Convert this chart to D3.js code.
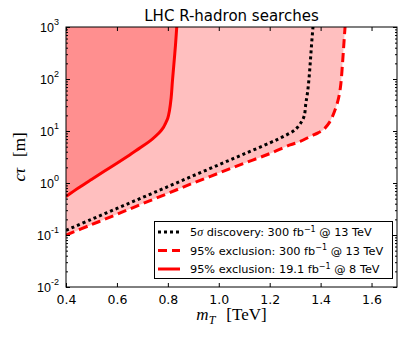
<!DOCTYPE html>
<html>
<head>
<meta charset="utf-8">
<script src="https://cdn.jsdelivr.net/npm/d3@7"></script>
<style>
  body { margin: 0; background: #fff; }
  text { fill: #000; }
</style>
</head>
<body>
<div id="chart"></div>
<script>
// 95% exclusion, 19.1 fb^-1 @ 8 TeV (solid)
const mass8 = [0.40, 0.45, 0.50, 0.55, 0.60, 0.65, 0.70, 0.74, 0.765, 0.78, 0.79, 0.80, 0.806, 0.813, 0.818, 0.824, 0.830, 0.835]
const ct8 = [0.55, 0.81, 1.17, 1.68, 2.4, 3.47, 5.07, 7.08, 9.12, 11.2, 13.8, 17.8, 24, 43.6, 91, 200, 450, 1000]

// 5 sigma discovery, 300 fb^-1 @ 13 TeV (dotted)
const massDisc = [0.40, 0.50, 0.60, 0.70, 0.80, 0.90, 1.00, 1.10, 1.20, 1.253, 1.299, 1.325, 1.336, 1.342, 1.349, 1.355, 1.360, 1.365, 1.370]
const ctDisc = [0.123, 0.20, 0.324, 0.525, 0.85, 1.38, 2.24, 3.63, 5.9, 7.8, 10.5, 15, 20, 34, 57, 110, 230, 500, 1000]

// 95% exclusion, 300 fb^-1 @ 13 TeV (dashed)
const massExcl = [0.40, 0.50, 0.60, 0.70, 0.80, 0.90, 1.00, 1.10, 1.20, 1.28, 1.32, 1.358, 1.39, 1.41, 1.436, 1.456, 1.469, 1.478, 1.486, 1.491, 1.496]
const ctExcl = [0.10, 0.158, 0.25, 0.40, 0.63, 1.0, 1.55, 2.4, 3.67, 5.4, 6.3, 7.8, 9.2, 10.5, 15, 25, 40, 70, 200, 450, 1000]

const xTicks = [0.4, 0.6, 0.8, 1.0, 1.2, 1.4, 1.6]
const yTicks = [1e-2, 1e-1, 1e0, 1e1, 1e2, 1e3]
const yExponents = ["-2", "-1", "0", "1", "2", "3"]

const width = 407, height = 339
const margin = {left: 66, right: 10, top: 27, bottom: 52}

const svg = d3.select("#chart").append("svg")
    .attr("width", width)
    .attr("height", height)
    .attr("font-family", "DejaVu Sans, sans-serif")

const x = d3.scaleLinear().domain([0.4, 1.7]).range([margin.left, width - margin.right])
const y = d3.scaleLog().domain([1e-2, 1e3]).range([height - margin.bottom, margin.top])

svg.append("clipPath").attr("id", "plotClip")
    .append("rect")
    .attr("x", x(0.4)).attr("y", y(1e3))
    .attr("width", x(1.7) - x(0.4)).attr("height", y(1e-2) - y(1e3))

const line = d3.line()
    .x(d => x(d[0]))
    .y(d => y(d[1]))
    .curve(d3.curveCatmullRom.alpha(0.5))

const zip = (a, b) => a.map((v, i) => [v, b[i]])
const curveExcl = zip(massExcl, ctExcl)
const curveDisc = zip(massDisc, ctDisc)
const curve8 = zip(mass8, ct8)

const plot = svg.append("g").attr("clip-path", "url(#plotClip)")

// shaded regions (to the upper-left of each exclusion line)
function fillPath(pts) {
    return line(pts) + `L${x(0.4)},${y(1e3)}Z`
}
plot.append("path").attr("d", fillPath(curveExcl)).attr("fill", "red").attr("fill-opacity", 0.25)
plot.append("path").attr("d", fillPath(curve8)).attr("fill", "red").attr("fill-opacity", 0.25)

plot.append("path").attr("d", line(curveDisc))
    .attr("fill", "none").attr("stroke", "#000").attr("stroke-width", 3)
    .attr("stroke-dasharray", "3,3")
plot.append("path").attr("d", line(curveExcl))
    .attr("fill", "none").attr("stroke", "red").attr("stroke-width", 3)
    .attr("stroke-dasharray", "9,5")
plot.append("path").attr("d", line(curve8))
    .attr("fill", "none").attr("stroke", "red").attr("stroke-width", 3)

// axes, ticks pointing inward
const xAxis = d3.axisBottom(x).tickValues(xTicks).tickSize(-4).tickPadding(8).tickFormat(d3.format(".1f"))
const gx = svg.append("g").attr("transform", `translate(0,${y(1e-2)})`).call(xAxis)
gx.selectAll("text").attr("font-size", 12.5).attr("font-family", "DejaVu Sans")

svg.append("g").attr("transform", `translate(0,${y(1e3)})`)
    .call(d3.axisTop(x).tickValues(xTicks).tickSize(-4).tickFormat(""))

const minorY = []
for (let e = -2; e < 3; e++) for (let m = 2; m < 10; m++) minorY.push(m * Math.pow(10, e))

const gy = svg.append("g").attr("transform", `translate(${x(0.4)},0)`)
    .call(d3.axisLeft(y).tickValues(yTicks).tickSize(-4).tickPadding(7))
gy.selectAll("text").each(function (d, i) {
    const t = d3.select(this).text("")
    t.attr("font-size", 12.5).attr("dy", "0.32em")
    t.append("tspan").text("10")
    t.append("tspan").attr("font-size", 9).attr("dy", "-0.75em").text(yExponents[i])
})
svg.append("g").attr("transform", `translate(${x(0.4)},0)`)
    .call(d3.axisLeft(y).tickValues(minorY).tickSize(-2).tickFormat(""))
svg.append("g").attr("transform", `translate(${x(1.7)},0)`)
    .call(d3.axisRight(y).tickValues(yTicks).tickSize(-4).tickFormat(""))
svg.append("g").attr("transform", `translate(${x(1.7)},0)`)
    .call(d3.axisRight(y).tickValues(minorY).tickSize(-2).tickFormat(""))

svg.selectAll(".domain").remove()
svg.selectAll(".tick line").attr("stroke", "#000")

// frame
svg.append("rect")
    .attr("x", x(0.4)).attr("y", y(1e3))
    .attr("width", x(1.7) - x(0.4)).attr("height", y(1e-2) - y(1e3))
    .attr("fill", "none").attr("stroke", "#000").attr("stroke-width", 1)

// title
svg.append("text")
    .attr("x", (x(0.4) + x(1.7)) / 2).attr("y", 21)
    .attr("text-anchor", "middle").attr("font-size", 15)
    .text("LHC R-hadron searches")

// axis labels
const xl = svg.append("text")
    .attr("x", (x(0.4) + x(1.7)) / 2).attr("y", 320)
    .attr("text-anchor", "middle")
    .attr("font-family", "Liberation Serif, serif").attr("font-size", 17)
xl.append("tspan").attr("font-style", "italic").text("m")
xl.append("tspan").attr("font-style", "italic").attr("font-size", 12).attr("dy", 4).text("T")
xl.append("tspan").attr("dy", -4).attr("dx", 11).text("[TeV]")

const yl = svg.append("text")
    .attr("transform", `translate(25,${(y(1e3) + y(1e-2)) / 2}) rotate(-90)`)
    .attr("text-anchor", "middle")
    .attr("font-family", "Liberation Serif, serif").attr("font-size", 17)
yl.append("tspan").attr("font-style", "italic").text("cτ")
yl.append("tspan").attr("dx", 11).text("[m]")

// legend
const legend = svg.append("g")
legend.append("rect")
    .attr("x", 154.5).attr("y", 221.5).attr("width", 238).attr("height", 57)
    .attr("fill", "#fff").attr("stroke", "#000").attr("stroke-width", 1)

const legendItems = [
    {color: "#000", dash: "3,3", pre: [["5", null], ["σ", "italic"], [" discovery: 300 fb", null]], lumi: "−1", post: " @ 13 TeV"},
    {color: "red", dash: "9,5", pre: [["95% exclusion: 300 fb", null]], lumi: "−1", post: " @ 13 TeV"},
    {color: "red", dash: null, pre: [["95% exclusion: 19.1 fb", null]], lumi: "−1", post: " @ 8 TeV"}
]
const rowY = [232, 250.5, 269]
legendItems.forEach((it, i) => {
    legend.append("line")
        .attr("x1", 158).attr("x2", 180).attr("y1", rowY[i]).attr("y2", rowY[i])
        .attr("stroke", it.color).attr("stroke-width", 3)
        .attr("stroke-dasharray", it.dash)
    const t = legend.append("text")
        .attr("x", 190).attr("y", rowY[i] + 4)
        .attr("font-size", 11.3)
    it.pre.forEach(p => {
        const s = t.append("tspan").text(p[0])
        if (p[1]) s.attr("font-style", p[1]).attr("font-family", "Liberation Serif, serif").attr("font-size", 12)
    })
    t.append("tspan").attr("font-size", 8).attr("dy", -4.5).text(it.lumi)
    t.append("tspan").attr("dy", 4.5).text(it.post)
})
</script>
</body>
</html>
